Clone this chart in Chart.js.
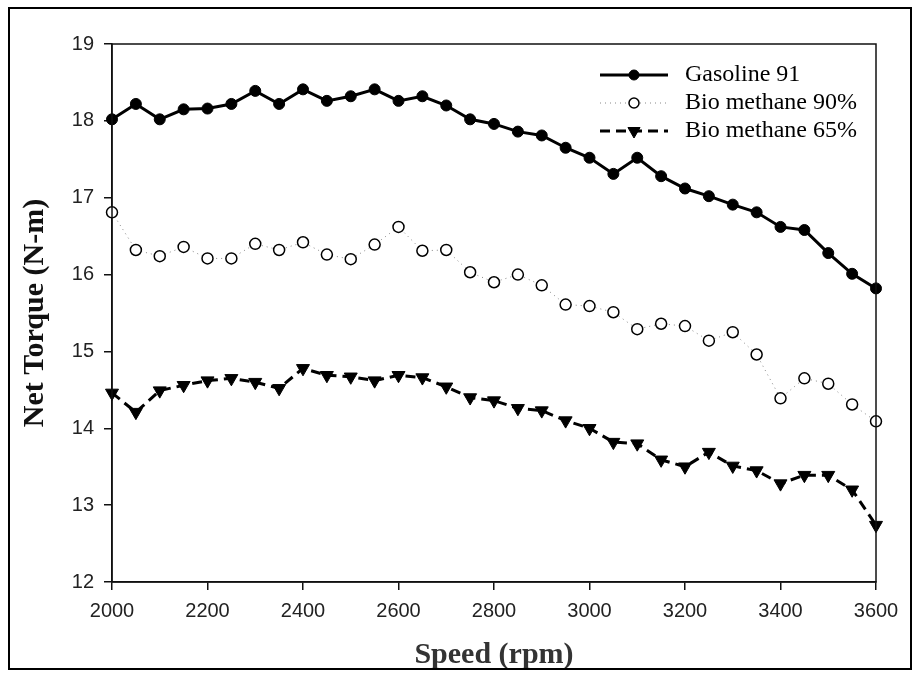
<!DOCTYPE html>
<html>
<head>
<meta charset="utf-8">
<script src="https://cdn.jsdelivr.net/npm/chart.js@4.4.1/dist/chart.umd.min.js"></script>
<style>
html,body{margin:0;padding:0;background:#fff;}
canvas{display:block;}
</style>
</head>
<body>
<canvas id="c" width="913" height="675"></canvas>
<script>
// ---- data ----
const speeds = [2000,2050,2100,2150,2200,2250,2300,2350,2400,2450,2500,2550,2600,2650,2700,2750,2800,2850,2900,2950,3000,3050,3100,3150,3200,3250,3300,3350,3400,3450,3500,3550,3600];
const gasoline91 = [18.02,18.22,18.02,18.15,18.16,18.22,18.39,18.22,18.41,18.26,18.32,18.41,18.26,18.32,18.20,18.02,17.96,17.86,17.81,17.65,17.52,17.31,17.52,17.28,17.12,17.02,16.91,16.81,16.62,16.58,16.28,16.01,15.82];
const bio90 = [16.81,16.32,16.24,16.36,16.21,16.21,16.40,16.32,16.42,16.26,16.20,16.39,16.62,16.31,16.32,16.03,15.90,16.00,15.86,15.61,15.59,15.51,15.29,15.36,15.33,15.14,15.25,14.96,14.39,14.65,14.58,14.31,14.09];
const bio65 = [14.46,14.21,14.49,14.56,14.62,14.65,14.60,14.52,14.78,14.69,14.67,14.62,14.69,14.66,14.54,14.40,14.36,14.26,14.23,14.10,14.00,13.82,13.80,13.59,13.50,13.69,13.51,13.45,13.28,13.39,13.39,13.20,12.74];
const seriesNames = ['Gasoline 91','Bio methane 90%','Bio methane 65%'];
const xTicks = [2000,2200,2400,2600,2800,3000,3200,3400,3600];
const yTicks = [12,13,14,15,16,17,18,19];
const xTitle = 'Speed (rpm)';
const yTitle = 'Net Torque (N-m)';

const pts = arr => arr.map((v,i)=>({x:speeds[i], y:v}));

const datasets = [
  {label:seriesNames[0], data:pts(gasoline91), borderColor:'#000', backgroundColor:'#000',
   borderWidth:3, pointStyle:'circle', pointRadius:5.5, pointBorderWidth:1, pointBackgroundColor:'#000', pointBorderColor:'#000', clip:false},
  {label:seriesNames[1], data:pts(bio90), borderColor:'#888', backgroundColor:'#fff',
   borderWidth:1, borderDash:[1,4], pointStyle:'circle', pointRadius:5.5, pointBorderWidth:1.5, pointBackgroundColor:'#fff', pointBorderColor:'#000', clip:false},
  {label:seriesNames[2], data:pts(bio65), borderColor:'#000', backgroundColor:'#000',
   borderWidth:3, borderDash:[10,6], pointStyle:'triangle', pointRotation:180, pointRadius:7.5, pointBorderWidth:1, pointBackgroundColor:'#000', pointBorderColor:'#000', clip:false}
];

const framePlugin = {
  id:'frame',
  beforeDraw(chart){
    const c = chart.ctx;
    c.save(); c.fillStyle='#fff'; c.fillRect(0,0,chart.width,chart.height); c.restore();
  },
  afterDraw(chart){
    const c = chart.ctx, a = chart.chartArea;
    c.save();
    c.strokeStyle='#111'; c.lineWidth=1.5;
    c.strokeRect(a.left, a.top, a.right-a.left, a.bottom-a.top);
    // outer border
    c.strokeStyle='#000'; c.lineWidth=2;
    c.strokeRect(9, 8, 902, 661);
    // legend
    const rows = [75, 103, 131];
    const x0 = 600, x1 = 668, xm = 634;
    chart.data.datasets.forEach((ds, i) => {
      const y = rows[i];
      c.save();
      c.strokeStyle = ds.borderColor; c.lineWidth = ds.borderWidth;
      c.setLineDash(ds.borderDash || []);
      c.beginPath(); c.moveTo(x0, y); c.lineTo(x1, y); c.stroke();
      c.restore();
      c.save();
      c.fillStyle = ds.pointBackgroundColor; c.strokeStyle = ds.pointBorderColor; c.lineWidth = ds.pointBorderWidth;
      Chart.helpers.drawPoint(c, {pointStyle: ds.pointStyle, rotation: ds.pointRotation||0, radius: i===2 ? 7 : 5, borderWidth: ds.pointBorderWidth}, xm, y);
      c.restore();
      c.fillStyle = '#000';
      c.font = '24px "Liberation Serif", "Times New Roman", serif';
      c.textBaseline = 'middle'; c.textAlign = 'left';
      c.fillText(ds.label, 685, y);
    });
    c.restore();
  }
};

new Chart(document.getElementById('c'), {
  type:'line',
  data:{datasets},
  options:{
    responsive:false,
    animation:false,
    layout:{padding:{left:0, top:44, right:37, bottom:0}},
    plugins:{legend:{display:false}, tooltip:{enabled:false}},
    elements:{line:{tension:0}},
    scales:{
      x:{
        type:'linear', min:2000, max:3600,
        afterBuildTicks(s){ s.ticks = xTicks.map(v=>({value:v})); },
        afterFit(s){ s.height = 93; },
        grid:{display:true, drawOnChartArea:false, drawTicks:true, tickLength:8, color:'#111', lineWidth:1.5},
        border:{display:true, color:'#111', width:1.5},
        ticks:{color:'#222', font:{family:'"Liberation Sans", Arial, sans-serif', size:20}, padding:9, maxRotation:0,
               callback:v => String(v)},
        title:{display:true, text:xTitle, color:'#333', font:{family:'"Liberation Serif", "Times New Roman", serif', size:30, weight:'bold'}, padding:{top:0,bottom:2}}
      },
      y:{
        type:'linear', min:12, max:19,
        afterBuildTicks(s){ s.ticks = yTicks.map(v=>({value:v})); },
        afterFit(s){ s.width = 112; },
        grid:{display:true, drawOnChartArea:false, drawTicks:true, tickLength:8, color:'#111', lineWidth:1.5},
        border:{display:true, color:'#111', width:1.5},
        ticks:{color:'#222', font:{family:'"Liberation Sans", Arial, sans-serif', size:20}, padding:10,
               callback:v => String(v)},
        title:{display:true, text:yTitle, color:'#111', font:{family:'"Liberation Serif", "Times New Roman", serif', size:30, weight:'bold'}, padding:{top:17,bottom:0}}
      }
    }
  },
  plugins:[framePlugin]
});
</script>
</body>
</html>
